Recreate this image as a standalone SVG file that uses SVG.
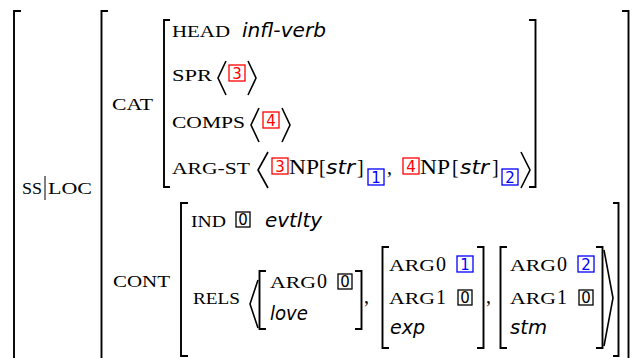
<svg xmlns="http://www.w3.org/2000/svg" width="632" height="358" viewBox="0 0 632 358">
  <style>
    .sc { font-family: "Liberation Serif", serif; font-size: 17px; fill: #000; }
    .rm { font-family: "Liberation Serif", serif; font-size: 20px; fill: #000; }
    .it { font-family: "DejaVu Sans", sans-serif; font-style: oblique; font-size: 19px; fill: #000; }
    .br { fill: none; stroke: #000; stroke-width: 1.9; }
    .ang { fill: none; stroke: #000; stroke-width: 1.6; stroke-linejoin: miter; }
    .bar { stroke: #000; stroke-width: 1; }
    .tag rect { fill: #fff; stroke-width: 1.3; }
    .tag text { font-family: "DejaVu Sans", sans-serif; font-size: 15px; text-anchor: middle; }
    .red rect { stroke: #f00; } .red text { fill: #f00; }
    .blue rect { stroke: #00f; } .blue text { fill: #00f; }
    .blk rect { stroke: #000; } .blk text { fill: #000; }
  </style>
  <defs>
    <g id="t0" class="tag blk"><rect x="0" y="0" width="14" height="15"/><text x="7" y="13">0</text></g>
    <g id="t1" class="tag blue"><rect x="0" y="0" width="16" height="16"/><text x="8" y="14">1</text></g>
    <g id="t2" class="tag blue"><rect x="0" y="0" width="16" height="16"/><text x="8" y="14">2</text></g>
    <g id="t3" class="tag red"><rect x="0" y="0" width="16" height="16"/><text x="8" y="14">3</text></g>
    <g id="t4" class="tag red"><rect x="0" y="0" width="16" height="16"/><text x="8" y="14">4</text></g>
  </defs>

  <!-- outer structure brackets -->
  <g id="outer">
    <path class="br" d="M21,11 H14 V358"/>
  </g>

  <g id="ssloc">
    <path class="br" d="M108,11 H101.5 V358"/>
    <path class="br" d="M622,11 H628.5 V358"/>
    <text class="sc" x="22" y="194" textLength="20" lengthAdjust="spacingAndGlyphs">SS</text>
    <line class="bar" x1="45" y1="176" x2="45" y2="200"/>
    <text class="sc" x="48" y="194" textLength="44" lengthAdjust="spacingAndGlyphs">LOC</text>
  </g>

  <!-- CAT value -->
  <g id="cat">
    <text class="sc" x="112" y="110" textLength="41" lengthAdjust="spacingAndGlyphs">CAT</text>
    <path class="br" d="M170,20 H164 V187 H170"/>
    <path class="br" d="M529,20 H535.5 V187 H529"/>

    <g id="head">
      <text class="sc" x="172" y="37" textLength="58" lengthAdjust="spacingAndGlyphs">HEAD</text>
      <text class="it" x="242" y="37" textLength="84" lengthAdjust="spacingAndGlyphs">infl-verb</text>
    </g>

    <g id="spr">
      <text class="sc" x="172" y="81" textLength="40" lengthAdjust="spacingAndGlyphs">SPR</text>
      <polyline class="ang" points="226,61 218,78 226,95"/>
      <use href="#t3" x="229" y="65"/>
      <polyline class="ang" points="248,61 256,78 248,95"/>
    </g>

    <g id="comps">
      <text class="sc" x="172" y="128" textLength="73" lengthAdjust="spacingAndGlyphs">COMPS</text>
      <polyline class="ang" points="259,108 251,125 259,142"/>
      <use href="#t4" x="263" y="112"/>
      <polyline class="ang" points="282,108 290,125 282,142"/>
    </g>

    <g id="argst">
      <text class="sc" x="172" y="174" textLength="78" lengthAdjust="spacingAndGlyphs">ARG-ST</text>
      <polyline class="ang" points="268,152 258,170 268,188"/>
      <use href="#t3" x="272" y="158"/>
      <text class="rm" x="289" y="174" textLength="30" lengthAdjust="spacingAndGlyphs">NP</text>
      <text class="rm" x="319" y="174">[</text>
      <text class="it" x="326" y="174" textLength="29" lengthAdjust="spacingAndGlyphs">str</text>
      <text class="rm" x="357" y="174">]</text>
      <use href="#t1" x="368" y="169"/>
      <text class="rm" x="387" y="174">,</text>
      <use href="#t4" x="403" y="158"/>
      <text class="rm" x="420" y="174" textLength="30" lengthAdjust="spacingAndGlyphs">NP</text>
      <text class="rm" x="452" y="174">[</text>
      <text class="it" x="460" y="174" textLength="29" lengthAdjust="spacingAndGlyphs">str</text>
      <text class="rm" x="492" y="174">]</text>
      <use href="#t2" x="502" y="169"/>
      <polyline class="ang" points="521,152 530,170 521,188"/>
    </g>
  </g>

  <!-- CONT value -->
  <g id="cont">
    <text class="sc" x="113" y="287" textLength="57" lengthAdjust="spacingAndGlyphs">CONT</text>
    <path class="br" d="M188,203 H181 V356 H188"/>
    <path class="br" d="M613,203 H618.5 V356 H613"/>

    <g id="ind">
      <text class="sc" x="191" y="227" textLength="35" lengthAdjust="spacingAndGlyphs">IND</text>
      <use href="#t0" x="236" y="212"/>
      <text class="it" x="265" y="227" textLength="57" lengthAdjust="spacingAndGlyphs">evtlty</text>
    </g>

    <g id="rels">
      <text class="sc" x="193" y="304" textLength="47" lengthAdjust="spacingAndGlyphs">RELS</text>
      <polyline class="ang" points="258,280 250,304 258,328"/>
      <polyline class="ang" points="604,250 613,298 604,346"/>
    </g>

    <g id="rel-love">
      <path class="br" d="M266,271 H259.5 V329 H266"/>
      <text class="sc" x="270" y="288" textLength="46" lengthAdjust="spacingAndGlyphs">ARG</text>
      <text class="rm" x="317" y="288">0</text>
      <use href="#t0" x="338" y="274"/>
      <text class="it" x="270" y="320" textLength="38" lengthAdjust="spacingAndGlyphs">love</text>
      <path class="br" d="M355,271 H361.5 V329 H355"/>
      <text class="rm" x="364" y="303">,</text>
    </g>

    <g id="rel-exp">
      <path class="br" d="M389,247 H382.5 V348 H389"/>
      <text class="sc" x="389" y="271" textLength="46" lengthAdjust="spacingAndGlyphs">ARG</text>
      <text class="rm" x="436" y="271">0</text>
      <use href="#t1" x="457" y="256"/>
      <text class="sc" x="389" y="304" textLength="46" lengthAdjust="spacingAndGlyphs">ARG</text>
      <text class="rm" x="436" y="304">1</text>
      <use href="#t0" x="458" y="290"/>
      <text class="it" x="390" y="334" textLength="35" lengthAdjust="spacingAndGlyphs">exp</text>
      <path class="br" d="M477,247 H483.5 V348 H477"/>
      <text class="rm" x="486" y="303">,</text>
    </g>

    <g id="rel-stm">
      <path class="br" d="M507,247 H500.5 V348 H507"/>
      <text class="sc" x="510" y="271" textLength="46" lengthAdjust="spacingAndGlyphs">ARG</text>
      <text class="rm" x="557" y="271">0</text>
      <use href="#t2" x="578" y="256"/>
      <text class="sc" x="510" y="304" textLength="46" lengthAdjust="spacingAndGlyphs">ARG</text>
      <text class="rm" x="557" y="304">1</text>
      <use href="#t0" x="579" y="290"/>
      <text class="it" x="510" y="334" textLength="37" lengthAdjust="spacingAndGlyphs">stm</text>
      <path class="br" d="M596,247 H602.5 V348 H596"/>
    </g>
  </g>
</svg>
